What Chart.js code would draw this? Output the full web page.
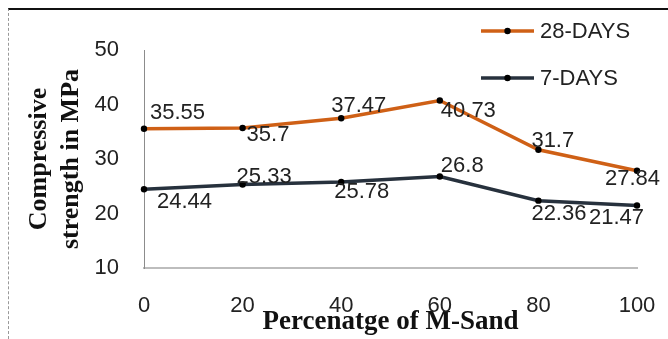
<!DOCTYPE html>
<html>
<head>
<meta charset="utf-8">
<script src="https://cdn.jsdelivr.net/npm/chart.js@4.4.1/dist/chart.umd.min.js"></script>
<style>
  html,body{margin:0;padding:0;background:#fff;}
  #wrap{position:relative;width:668px;height:339px;}
  #frame{position:absolute;left:8px;top:8px;right:0;bottom:0;border-top:2px solid #111;border-left:1px dashed #999;pointer-events:none;}
  canvas{position:absolute;left:0;top:0;}
</style>
</head>
<body>
<div id="wrap">
  <canvas id="c" width="668" height="339"></canvas>
  <div id="frame"></div>
</div>
<script>
// valores
const categorias = ['0','20','40','60','80','100'];
const dias28 = [35.55, 35.7, 37.47, 40.73, 31.7, 27.84];
const dias7  = [24.44, 25.33, 25.78, 26.8, 22.36, 21.47];
const yTicks = [10, 20, 30, 40, 50];

// desplazamiento de cada etiqueta respecto del punto (borde izq., centro vertical)
const offs28 = [[6,-16],[4,7],[-10,-12],[1,10],[-7,-9],[-32,8]];
const offs7  = [[13,13],[-6,-8],[-7,10],[1,-11],[-7,13],[-48,12]];

const FONT = '"Liberation Sans", Arial, sans-serif';
const SERIF = '"Liberation Serif", "Times New Roman", serif';

// etiquetas de datos
const valueLabels = {
  id:'valueLabels',
  afterDatasetsDraw(chart){
    const ctx = chart.ctx;
    const offs = [offs28, offs7];
    ctx.save();
    ctx.font = '22px ' + FONT;
    ctx.fillStyle = '#222';
    ctx.textAlign = 'left';
    ctx.textBaseline = 'middle';
    chart.data.datasets.forEach((ds, di)=>{
      chart.getDatasetMeta(di).data.forEach((pt, i)=>{
        const o = offs[di][i];
        ctx.fillText(String(ds.data[i]), pt.x + o[0], pt.y + o[1]);
      });
    });
    ctx.restore();
  }
};

// leyenda a mano (arriba a la derecha, parte fuera del área)
const miniLegend = {
  id:'miniLegend',
  afterDraw(chart){
    const ctx = chart.ctx;
    const x1 = 481, x2 = 534, rows = [31, 78];
    ctx.save();
    chart.data.datasets.forEach((ds, i)=>{
      const y = rows[i];
      ctx.strokeStyle = ds.borderColor;
      ctx.lineWidth = 3.5;
      ctx.beginPath(); ctx.moveTo(x1, y); ctx.lineTo(x2, y); ctx.stroke();
      ctx.fillStyle = '#000';
      ctx.beginPath(); ctx.arc((x1+x2)/2, y, 3.2, 0, Math.PI*2); ctx.fill();
      ctx.font = '22px ' + FONT;
      ctx.fillStyle = '#222';
      ctx.textBaseline = 'middle';
      ctx.fillText(ds.label, x2 + 6, y + 1);
    });
    ctx.restore();
  }
};

new Chart(document.getElementById('c').getContext('2d'), {
  type:'line',
  data:{
    labels: categorias,
    datasets:[
      {label:'28-DAYS', data:dias28, borderColor:'#CF6016', borderWidth:3.5, pointRadius:3.2, pointBackgroundColor:'#000', pointBorderWidth:0, tension:0},
      {label:'7-DAYS',  data:dias7,  borderColor:'#27313D', borderWidth:3.5, pointRadius:3.2, pointBackgroundColor:'#000', pointBorderWidth:0, tension:0}
    ]
  },
  options:{
    responsive:false, animation:false,
    layout:{padding:{top:50, right:31, bottom:0, left:0}},
    plugins:{legend:{display:false}, tooltip:{enabled:false}},
    scales:{
      x:{
        offset:false,
        grid:{display:false, drawTicks:false},
        border:{display:true, color:'#BDBDBD', width:2},
        ticks:{color:'#222', padding:25, maxRotation:0, font:{family:FONT, size:22}},
        title:{display:true, text:'Percenatge of M-Sand', color:'#111', padding:{top:0,bottom:1}, font:{family:SERIF, size:27, weight:'bold', lineHeight:1.2}},
        afterFit(s){ s.height = 71; s.paddingLeft = 0; s.paddingRight = 0; }
      },
      y:{
        min:10, max:50,
        afterBuildTicks(s){ s.ticks = yTicks.map(v=>({value:v})); },
        grid:{display:false, drawTicks:false},
        border:{display:true, color:'#8C8C8C', width:1},
        ticks:{color:'#222', padding:25, font:{family:FONT, size:22}},
        title:{display:true, text:['Compressive','strength in MPa'], color:'#111', padding:{top:24,bottom:0}, font:{family:SERIF, size:26, weight:'bold', lineHeight:1.2}},
        afterFit(s){ s.width = 144; }
      }
    }
  },
  plugins:[valueLabels, miniLegend]
});
</script>
</body>
</html>
